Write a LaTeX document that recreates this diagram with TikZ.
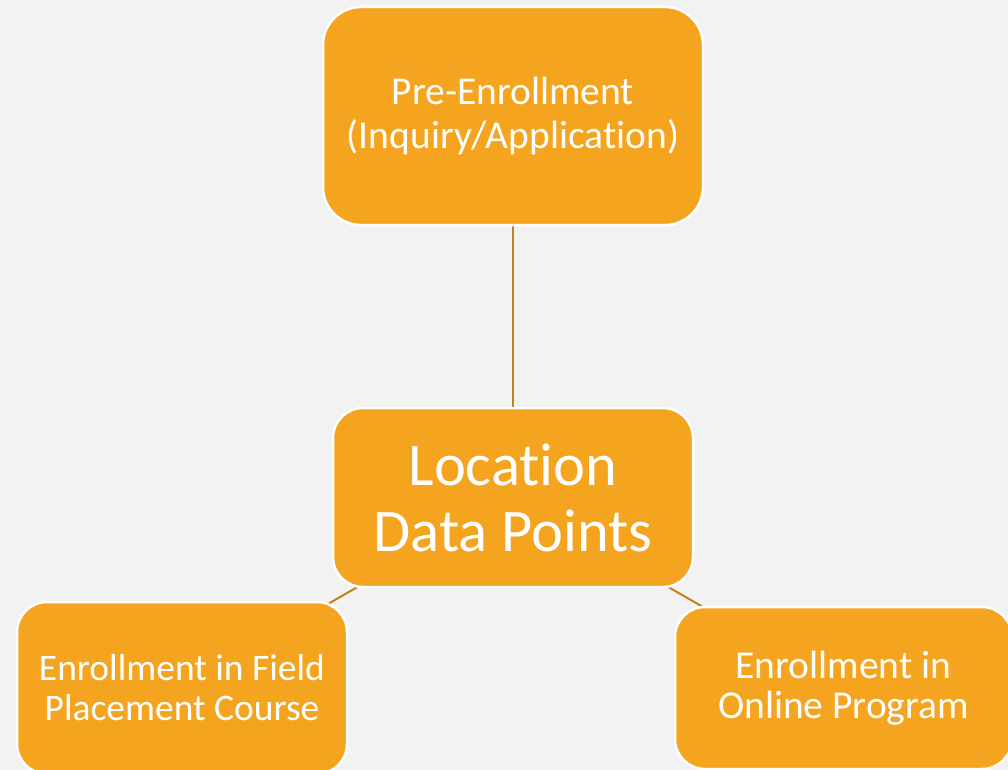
\documentclass[tikz,border=0pt]{standalone}
\usepackage{fontspec}
\setmainfont{Carlito}[Ligatures=NoCommon]
\pgfdeclarelayer{bg}
\pgfdeclarelayer{lines}
\pgfsetlayers{bg,lines,main}
\definecolor{pagebg}{HTML}{F2F2F2}
\definecolor{boxfill}{HTML}{F5A420}
\definecolor{linkcol}{HTML}{C4801F}
\tikzset{
  box/.style={rectangle, rounded corners=#1, fill=boxfill, draw=white, line width=2.5pt, text=white, align=center, inner sep=0pt},
  link/.style={draw=linkcol, line width=2pt},
}
\begin{document}
\begin{tikzpicture}[x=1pt,y=-1pt]
\useasboundingbox (0,0) rectangle (1008,770);
\begin{pgfonlayer}{bg}
\fill[pagebg] (0,0) rectangle (1008,770);
\end{pgfonlayer}
\clip (0,0) rectangle (1008,770);
\node[box=38pt, minimum width=380pt, minimum height=218pt,
  font=\fontsize{39.5}{44}\selectfont] (pre) at (513,116) {Pre-Enrollment\\(Inquiry/Application)};
\node[box=30pt, minimum width=360pt, minimum height=179pt,
  font=\fontsize{60.5}{66}\selectfont] (loc) at (513,497.5) {Location\\Data Points};
\node[box=30pt, minimum width=330pt, minimum height=172pt,
  font=\fontsize{37.5}{40}\selectfont] (field) at (182,688) {Enrollment in Field\\Placement Course};
\node[box=30pt, minimum width=337pt, minimum height=162pt,
  font=\fontsize{39.5}{40}\selectfont] (online) at (843.5,688) {Enrollment in\\Online Program};
\begin{pgfonlayer}{lines}
\draw[link] (pre.center) -- (loc.center);
\draw[link] (loc.center) -- (field.center);
\draw[link] (loc.center) -- (online.center);
\end{pgfonlayer}
\end{tikzpicture}
\end{document}
